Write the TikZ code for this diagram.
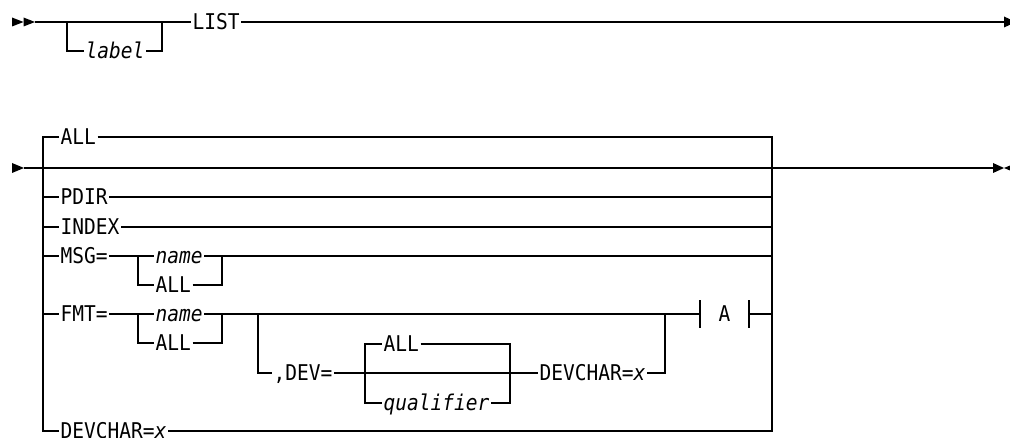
\documentclass[tikz,border=0pt]{standalone}
\usepackage{fontspec}
\newfontfamily\dia[FakeStretch=0.9]{DejaVu Sans Mono}
\begin{document}
\begin{tikzpicture}[x=1pt,y=-1pt,line width=1.3pt,
  t/.style={inner xsep=1pt,inner ysep=0pt,text height=15.8pt,text depth=0pt,anchor=west,
    font=\dia\fontsize{21.7}{24}\selectfont},
  it/.style={t,font=\dia\itshape\fontsize{21.7}{24}\selectfont},
  tipr/.style={fill=black,draw=none}]
\useasboundingbox (0,0) rectangle (1010,438);
% ---------- first line ----------
\coordinate (s1) at (35,22);
\coordinate (e1) at (1004,22);
\fill[tipr] (12,17.5) -- (23.5,22) -- (12,26.5) -- cycle;
\fill[tipr] (23.5,17.5) -- (35,22) -- (23.5,26.5) -- cycle;
\node[t] (list) at (191,22) {LIST};
\node[it] (label) at (84,51) {label};
\coordinate (b1l) at (67,22);
\coordinate (b1r) at (162,22);
\draw (s1) -- (list.west);
\draw (b1l) |- (label.west);
\draw (label.east) -| (b1r);
\draw (list.east) -- (e1);
\fill[tipr] (1004,16.5) -- (1016,22) -- (1004,27.5) -- cycle;
% ---------- second line ----------
\coordinate (s2) at (24,168);
\coordinate (e2) at (993,168);
\coordinate (L) at (43,168);
\coordinate (R) at (772,168);
\fill[tipr] (12,163) -- (24,168) -- (12,173) -- cycle;
\draw (s2) -- (e2);
\fill[tipr] (993,163) -- (1004,168) -- (993,173) -- cycle;
\fill[tipr] (1016,163) -- (1004,168) -- (1016,173) -- cycle;
% ALL (default, above)
\node[t] (all0) at (59,137) {ALL};
\draw (all0.west) -| (L);
\draw (all0.east) -| (R);
% PDIR
\node[t] (pdir) at (59,197) {PDIR};
\draw (L) |- (pdir.west);
\draw (pdir.east) -| (R);
% INDEX
\node[t] (index) at (59,227) {INDEX};
\draw (L) |- (index.west);
\draw (index.east) -| (R);
% MSG=
\node[t] (msg) at (59,256) {MSG=};
\node[it] (mname) at (154,256) {name};
\node[t] (mall) at (154,285) {ALL};
\coordinate (mbl) at (138,256);
\coordinate (mbr) at (222,256);
\draw (L) |- (msg.west);
\draw (msg.east) -- (mname.west);
\draw (mbl) |- (mall.west);
\draw (mall.east) -| (mbr);
\draw (mname.east) -| (R);
% FMT=
\node[t] (fmt) at (59,314) {FMT=};
\node[it] (fname) at (154,314) {name};
\node[t] (fall) at (154,343) {ALL};
\coordinate (fbl) at (138,314);
\coordinate (fbr) at (222,314);
\draw (L) |- (fmt.west);
\draw (fmt.east) -- (fname.west);
\draw (fbl) |- (fall.west);
\draw (fall.east) -| (fbr);
% fragment A
\coordinate (a1) at (700,314);
\coordinate (a2) at (749,314);
\node[t,anchor=center] (A) at (724.5,314) {A};
\draw (fname.east) -- (a1);
\draw ([yshift=-14pt]a1) -- ([yshift=14pt]a1);
\draw ([yshift=-14pt]a2) -- ([yshift=14pt]a2);
\draw (a2) -| (R);
% ,DEV=
\coordinate (dbl) at (258,314);
\coordinate (dbr) at (665,314);
\node[t] (dev) at (272,373) {,DEV=};
\node[t] (dall) at (382,344) {ALL};
\node[it] (qual) at (382,403) {qualifier};
\node[t] (dc2) at (538,373) {DEVCHAR=\textit{x}};
\coordinate (qbl) at (365,373);
\coordinate (qbr) at (510,373);
\draw (dbl) |- (dev.west);
\draw (dev.east) -- (dc2.west);
\draw (qbl) |- (dall.west);
\draw (dall.east) -| (qbr);
\draw (qbl) |- (qual.west);
\draw (qual.east) -| (qbr);
\draw (dc2.east) -| (dbr);
% DEVCHAR=x
\node[t] (dc1) at (59,431) {DEVCHAR=\textit{x}};
\draw (dc1.west) -| (L);
\draw (dc1.east) -| (R);
\end{tikzpicture}
\end{document}
